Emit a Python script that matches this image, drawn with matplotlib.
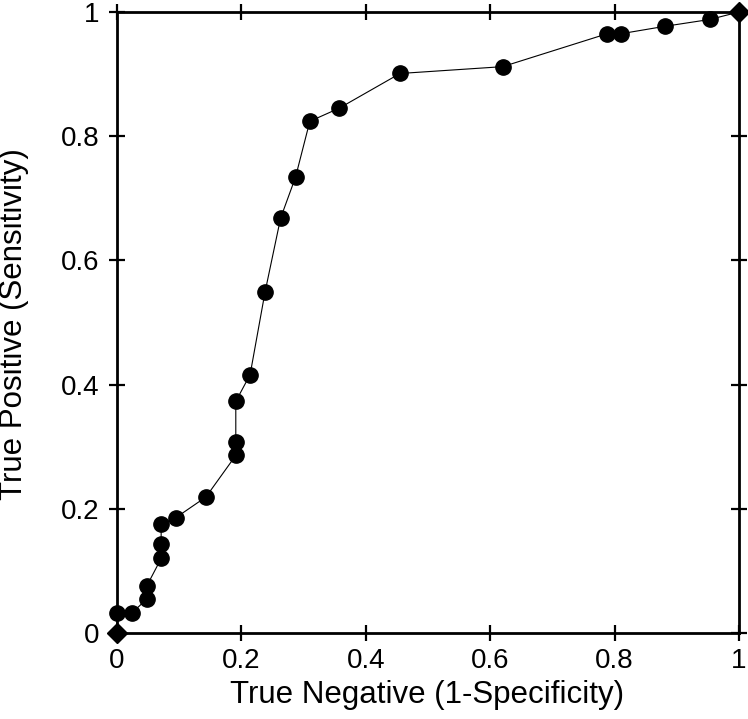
import matplotlib
matplotlib.use('Agg')
import matplotlib.pyplot as plt

# ROC curve points
fpr = [0.0, 0.0, 0.024, 0.048, 0.048, 0.071, 0.071, 0.071, 0.095, 0.143,
       0.191, 0.191, 0.191, 0.214, 0.238, 0.263, 0.287, 0.310, 0.357, 0.455,
       0.620, 0.788, 0.810, 0.881, 0.953, 1.0]
tpr = [0.0, 0.032, 0.032, 0.055, 0.076, 0.120, 0.143, 0.175, 0.186, 0.219,
       0.286, 0.307, 0.373, 0.416, 0.549, 0.668, 0.734, 0.824, 0.845, 0.901,
       0.912, 0.965, 0.965, 0.977, 0.988, 1.0]

ticks = [0, 0.2, 0.4, 0.6, 0.8, 1]
tick_labels = ['0', '0.2', '0.4', '0.6', '0.8', '1']

plt.rcParams['font.family'] = ['Liberation Sans', 'DejaVu Sans']

fig = plt.figure(figsize=(7.48, 7.19), dpi=100)
ax = fig.add_axes([0.1564, 0.1196, 0.8316, 0.8637])

# curve with round markers, the two corner points look like diamonds
ax.plot(fpr, tpr, color='black', linewidth=0.8, marker='o', markersize=11,
        markevery=slice(1, -1), markerfacecolor='black',
        markeredgecolor='black', clip_on=False, zorder=3)
ax.plot([fpr[0], fpr[-1]], [tpr[0], tpr[-1]], linestyle='none', marker='D',
        markersize=10, color='black', clip_on=False, zorder=4)

ax.set_xlim(0, 1)
ax.set_ylim(0, 1)
ax.set_xticks(ticks)
ax.set_xticklabels(tick_labels)
ax.set_yticks(ticks)
ax.set_yticklabels(tick_labels)
for s in ax.spines.values():
    s.set_linewidth(2)
ax.tick_params(direction='inout', length=11, width=1.6, labelsize=20,
               top=True, right=True)
ax.tick_params(axis='x', pad=5)
ax.tick_params(axis='y', pad=7)

ax.set_xlabel('True Negative (1-Specificity)', fontsize=22.5)
ax.set_ylabel('True Positive (Sensitivity)', fontsize=22.5)
ax.xaxis.set_label_coords(0.499, -0.076)
ax.yaxis.set_label_coords(-0.142, 0.498)

fig.savefig('out.png', dpi=100)
